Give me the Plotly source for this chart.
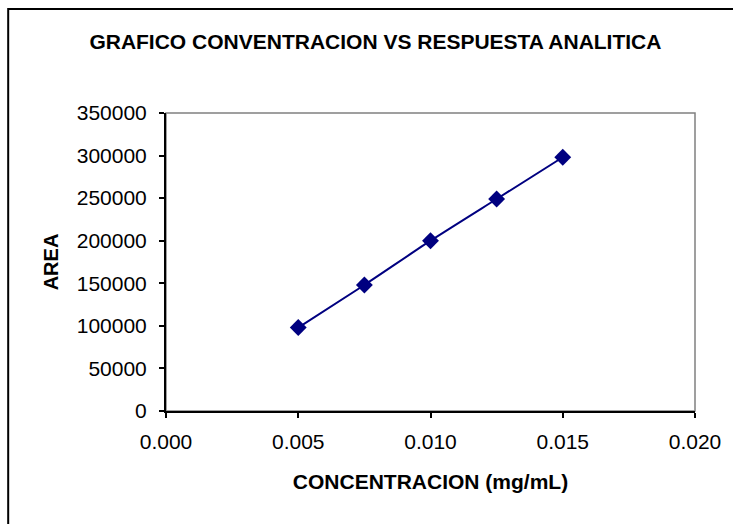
import plotly.graph_objects as go

concentracion = [0.005, 0.0075, 0.010, 0.0125, 0.015]
area = [98000, 148000, 200000, 249000, 298000]

x_ticks = [0.000, 0.005, 0.010, 0.015, 0.020]
x_tick_labels = ["0.000", "0.005", "0.010", "0.015", "0.020"]
y_ticks = [0, 50000, 100000, 150000, 200000, 250000, 300000, 350000]
y_tick_labels = [str(v) for v in y_ticks]

title_text = "GRAFICO CONVENTRACION VS RESPUESTA ANALITICA"
x_title = "CONCENTRACION (mg/mL)"
y_title = "AREA"

navy = "#000080"
font_family = "Liberation Sans, Arial, sans-serif"

fig = go.Figure()
fig.add_trace(go.Scatter(
    x=concentracion, y=area, mode="lines+markers",
    line=dict(color=navy, width=2, shape="spline", smoothing=0.6),
    marker=dict(symbol="diamond", size=13, color=navy),
    showlegend=False, hoverinfo="x+y",
))

W, H = 733, 524
L, R, T, B = 166, 34, 113, 113
pw, ph = W - L - R, H - T - B

def px_x(p):
    return (p - L) / pw

def px_y(p):
    return (H - B - p) / ph

fig.update_layout(
    width=W, height=H,
    margin=dict(l=L, r=R, t=T, b=B, pad=0),
    paper_bgcolor="white", plot_bgcolor="white",
    font=dict(family=font_family, color="black", size=21),
    title=dict(text="<b>" + title_text + "</b>", x=px_x(377), xref="paper",
               xanchor="center", y=1 - 42 / H, yanchor="middle",
               font=dict(size=21, family=font_family, color="black")),
    xaxis=dict(
        range=[0, 0.02], tickmode="array", tickvals=x_ticks, ticktext=x_tick_labels,
        showgrid=False, zeroline=False, showline=True, linecolor="black", linewidth=2,
        ticks="outside", ticklen=5, tickwidth=1.5, tickcolor="black",
        tickfont=dict(size=21), ticklabelstandoff=6,
        title=dict(text="<b>" + x_title + "</b>", font=dict(size=21), standoff=22),
    ),
    yaxis=dict(
        range=[0, 350000], tickmode="array", tickvals=y_ticks, ticktext=y_tick_labels,
        showgrid=False, zeroline=False, showline=True, linecolor="black", linewidth=2,
        ticks="outside", ticklen=5, tickwidth=1.5, tickcolor="black",
        tickfont=dict(size=21), ticklabelstandoff=8,
        title=dict(text="<b>" + y_title + "</b>", font=dict(size=20), standoff=13),
    ),
    shapes=[
        dict(type="rect", xref="paper", yref="paper", x0=0, y0=0, x1=1, y1=1,
             line=dict(color="#808080", width=1.5), layer="below"),
        dict(type="rect", xref="paper", yref="paper",
             x0=px_x(7), y0=px_y(560), x1=px_x(760), y1=px_y(9),
             line=dict(color="black", width=2), layer="below"),
    ],
)

fig.write_html("out.html")
